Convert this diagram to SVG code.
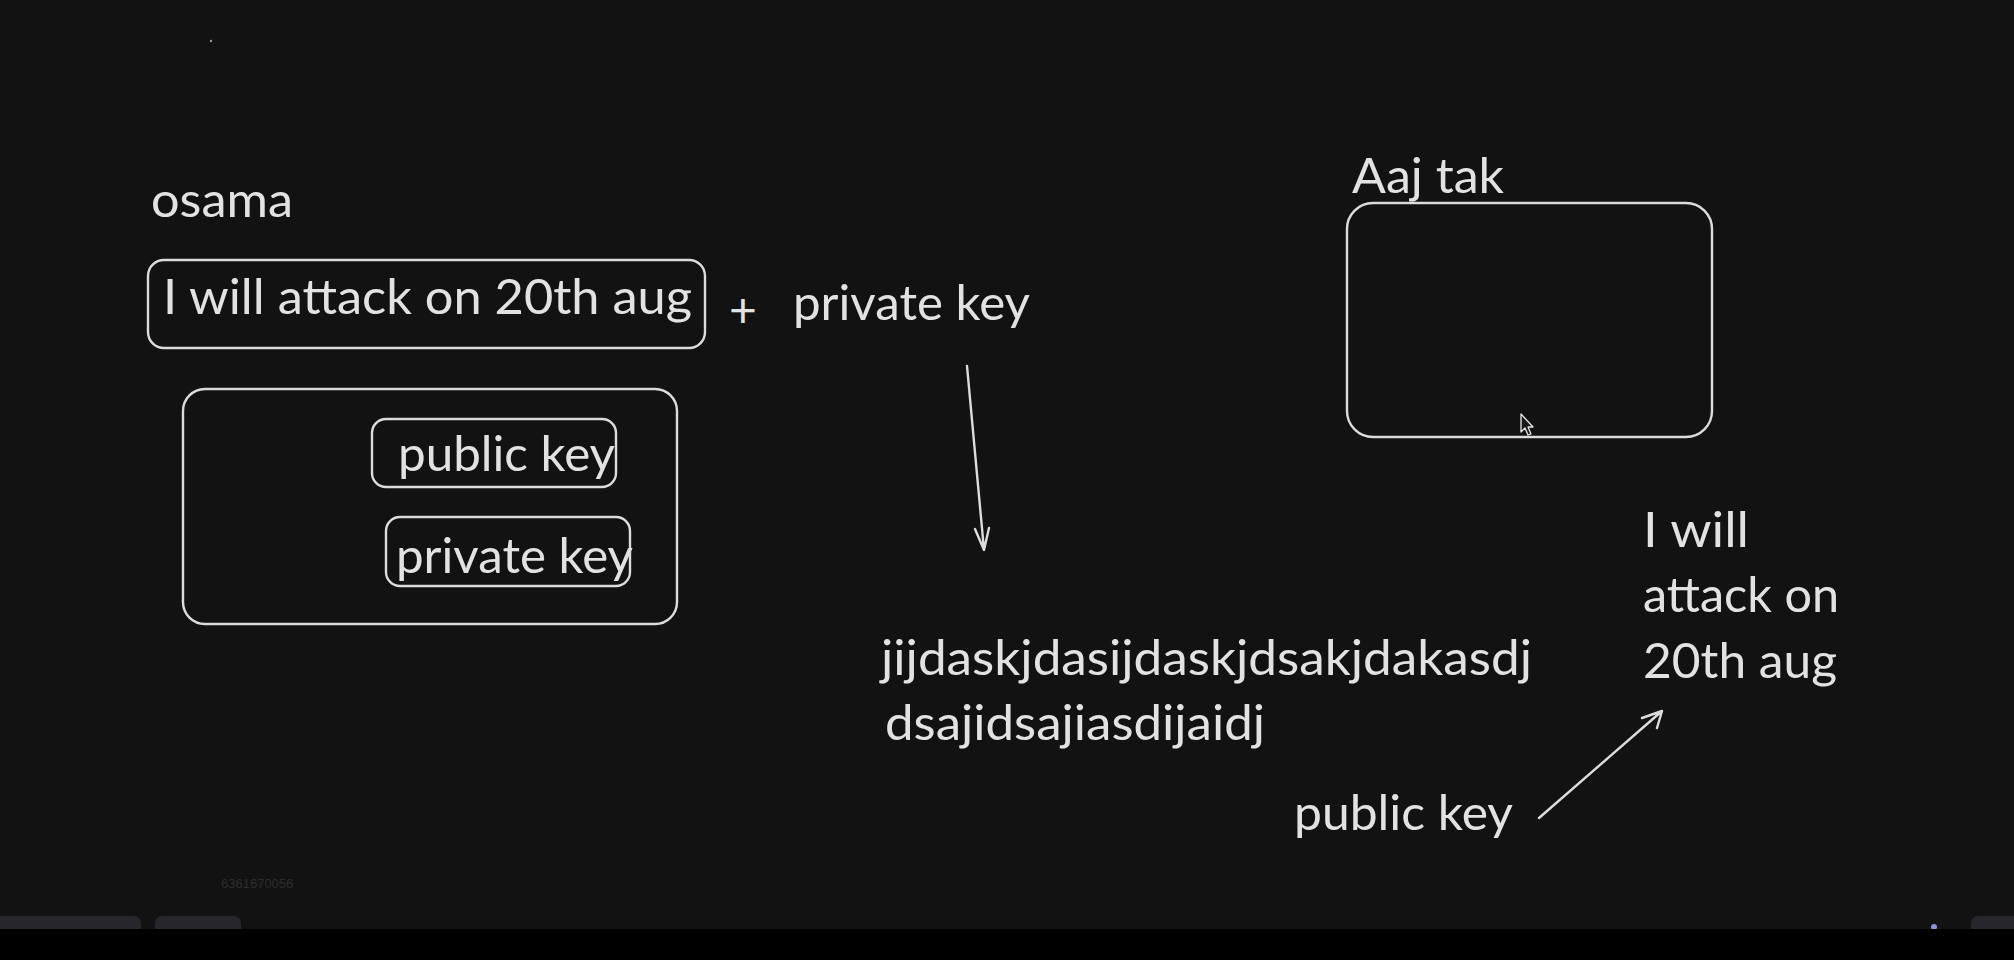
<svg xmlns="http://www.w3.org/2000/svg" width="2014" height="960" viewBox="0 0 2014 960">
<style>
.t{font-family:Lato,"Noto Sans","Liberation Sans",sans-serif;font-size:48px;fill:#e2e2e2}
.b{fill:none;stroke:#dcdcdc;stroke-width:2.4}
.c{fill:none;stroke:#dcdcdc;stroke-width:2.4;stroke-linecap:round;stroke-linejoin:round}
</style>
<rect x="0" y="0" width="2014" height="960" fill="#121212"/>
<circle cx="211" cy="41" r="1.2" fill="#9a9a9a"/>
<g id="osama-label"><text class="t" x="151" y="217" textLength="142" lengthAdjust="spacingAndGlyphs">osama</text></g>
<g id="message"><rect class="b" x="148" y="260" width="557" height="88" rx="16"/><text class="t" x="163" y="314" textLength="529" lengthAdjust="spacingAndGlyphs">I will attack on 20th aug</text></g>
<g id="plus"><text class="t" x="743" y="327" text-anchor="middle">+</text></g>
<g id="private-key-top"><text class="t" x="793" y="320" textLength="237" lengthAdjust="spacingAndGlyphs">private key</text></g>
<g id="keypair"><rect class="b" x="183" y="389" width="494" height="235" rx="22"/></g>
<g id="public-key-box"><rect class="b" x="372" y="419" width="244" height="68" rx="14"/><text class="t" x="398" y="471" textLength="217" lengthAdjust="spacingAndGlyphs">public key</text></g>
<g id="private-key-box"><rect class="b" x="386" y="517" width="244" height="69" rx="14"/><text class="t" x="396" y="573" textLength="237" lengthAdjust="spacingAndGlyphs">private key</text></g>
<g id="aajtak"><text class="t" x="1352" y="193" textLength="152" lengthAdjust="spacingAndGlyphs">Aaj tak</text><rect class="b" x="1347" y="203" width="365" height="234" rx="26"/></g>
<g id="cipher"><text class="t" x="881" y="675" textLength="651" lengthAdjust="spacingAndGlyphs">jijdaskjdasijdaskjdsakjdakasdj</text><text class="t" x="885" y="740" textLength="380" lengthAdjust="spacingAndGlyphs">dsajidsajiasdijaidj</text></g>
<g id="public-key-bottom"><text class="t" x="1294" y="830" textLength="219" lengthAdjust="spacingAndGlyphs">public key</text></g>
<g id="decrypted"><text class="t" x="1643" y="547" textLength="106" lengthAdjust="spacingAndGlyphs">I will</text><text class="t" x="1643" y="612" textLength="196" lengthAdjust="spacingAndGlyphs">attack on</text><text class="t" x="1643" y="678" textLength="194" lengthAdjust="spacingAndGlyphs">20th aug</text></g>
<g id="connectors">
<path class="c" d="M967 366 L984 550 M975 529 L984 550 L989 528"/>
<path class="c" d="M1539 818 L1662 711 M1642 718 L1662 711 L1657 728"/>
</g>
<path d="M1521 414 L1521 432 L1525 428 L1528 435 L1531 434 L1528 427 L1533 427 Z" fill="#1a1a1a" stroke="#e6e6e6" stroke-width="1.3" stroke-linejoin="round"/>
<text x="221" y="888" font-family="Liberation Sans,sans-serif" font-size="13" fill="#2e2e2e">6361670056</text>
<rect x="-10" y="916" width="151" height="30" rx="7" fill="#27262d"/>
<rect x="155" y="916" width="86" height="30" rx="7" fill="#27262d"/>
<rect x="1971" y="916" width="60" height="30" rx="7" fill="#27262d"/>
<circle cx="1934" cy="927" r="3" fill="#8f8fd8"/>
<rect x="0" y="929" width="2014" height="31" fill="#000"/>
</svg>
